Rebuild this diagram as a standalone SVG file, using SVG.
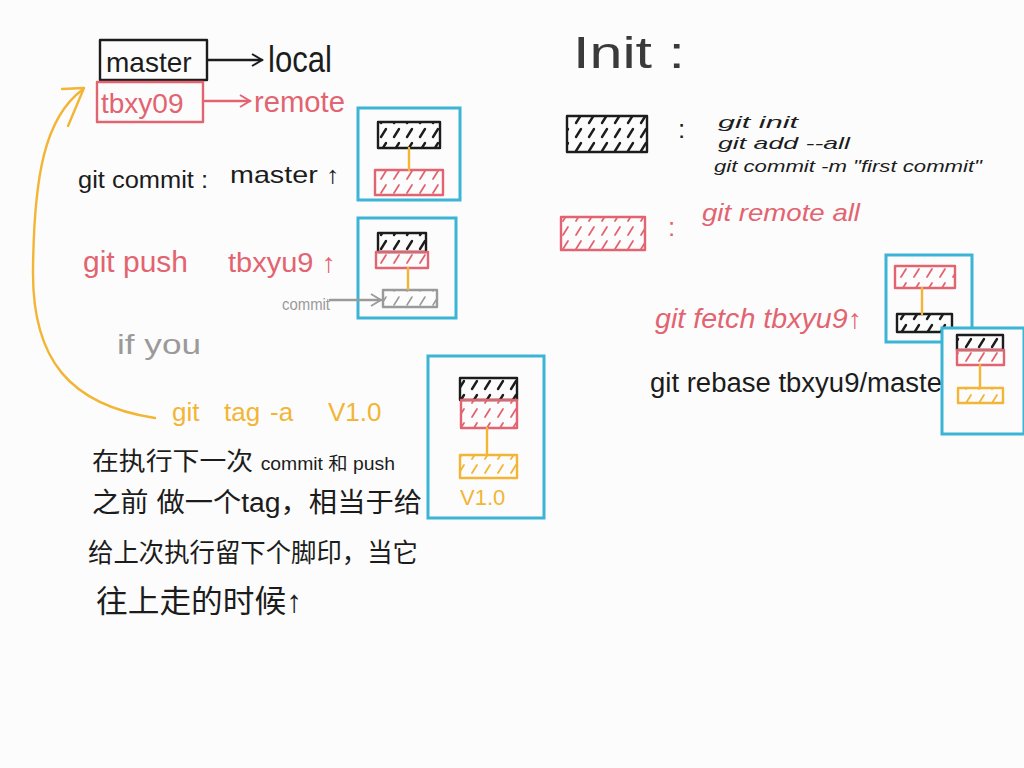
<svg xmlns="http://www.w3.org/2000/svg" width="1024" height="768" viewBox="0 0 1024 768">
<defs>
<style>
.t{font-family:"Liberation Sans","Noto Sans CJK SC",sans-serif}
.k{fill:#1c1c1c}.r{fill:#e26470}.y{fill:#f2b535}.g{fill:#9a9a9a}
.bk{stroke:#1c1c1c}.br{stroke:#e26470}.by{stroke:#f2b535}.bg{stroke:#9a9a9a}
.s{stroke-width:2.4;stroke-linecap:round;stroke-linejoin:round}
.n{fill:none}
.fk{fill:url(#hk)}.fre{fill:url(#hr)}.fy{fill:url(#hy)}.fg{fill:url(#hg)}
.fr{fill:#fdfcfc;stroke:#3bb4d6;stroke-width:3}
</style>
<pattern id="hk" width="13" height="14" patternUnits="userSpaceOnUse"><line x1="4" y1="11" x2="9" y2="3" stroke="#1c1c1c" stroke-width="2.4" stroke-linecap="round"/></pattern>
<pattern id="hr" width="13" height="14" patternUnits="userSpaceOnUse"><line x1="4" y1="11" x2="9" y2="3" stroke="#e26470" stroke-width="1.8" stroke-linecap="round"/></pattern>
<pattern id="hy" width="13" height="14" patternUnits="userSpaceOnUse"><line x1="4" y1="11" x2="9" y2="3" stroke="#f2b535" stroke-width="1.8" stroke-linecap="round"/></pattern>
<pattern id="hg" width="13" height="14" patternUnits="userSpaceOnUse"><line x1="4" y1="11" x2="9" y2="3" stroke="#9a9a9a" stroke-width="1.6" stroke-linecap="round"/></pattern>
<marker id="ak" markerWidth="14" markerHeight="14" refX="12" refY="7" orient="auto" markerUnits="userSpaceOnUse"><path d="M2 1 L12 7 L2 13" fill="none" stroke="#1c1c1c" stroke-width="2"/></marker>
<marker id="ar" markerWidth="14" markerHeight="14" refX="12" refY="7" orient="auto" markerUnits="userSpaceOnUse"><path d="M2 1 L12 7 L2 13" fill="none" stroke="#e26470" stroke-width="2"/></marker>
<marker id="ag" markerWidth="14" markerHeight="14" refX="12" refY="7" orient="auto" markerUnits="userSpaceOnUse"><path d="M2 1 L12 7 L2 13" fill="none" stroke="#9a9a9a" stroke-width="1.8"/></marker>
</defs>
<rect width="1024" height="768" fill="#fdfcfc"/>

<g id="master-label">
<rect x="100" y="40" width="107" height="40" class="s n bk"/>
<text x="106" y="72" class="t k" font-size="28">master</text>
</g>
<g id="local-label"><text x="268" y="72" class="t k" font-size="36" textLength="64" lengthAdjust="spacingAndGlyphs">local</text></g>
<g id="tbxy09-label">
<rect x="97" y="82" width="106" height="40" class="s n br"/>
<text x="101" y="113" class="t r" font-size="28">tbxy09</text>
</g>
<g id="remote-label"><text x="254" y="112" class="t r" font-size="30" textLength="91" lengthAdjust="spacingAndGlyphs">remote</text></g>

<g id="git-commit"><text x="78" y="188" class="t k" font-size="23" textLength="130" lengthAdjust="spacingAndGlyphs">git commit :</text><text x="230" y="183" class="t k" font-size="24" textLength="110" lengthAdjust="spacingAndGlyphs">master ↑</text></g>

<g id="box1">
<rect x="358" y="108" width="102" height="92" class="fr"/>
<rect x="378" y="122" width="62" height="26" class="s fk bk"/>
<rect x="375" y="170" width="68" height="25" class="s fre br"/>
</g>

<g id="git-push"><text x="83" y="272" class="t r" font-size="29" textLength="105" lengthAdjust="spacingAndGlyphs">git push</text><text x="228" y="272" class="t r" font-size="27" textLength="108" lengthAdjust="spacingAndGlyphs">tbxyu9 ↑</text></g>

<g id="box2">
<rect x="358" y="218" width="98" height="100" class="fr"/>
<rect x="378" y="233" width="48" height="19" class="s fk bk"/>
<rect x="376" y="252" width="52" height="16" class="s fre br"/>
<rect x="383" y="290" width="54" height="17" class="s fg bg"/>
</g>
<g id="commit-label"><text x="282" y="310" class="t g" font-size="16" textLength="48" lengthAdjust="spacingAndGlyphs">commit</text></g>

<g id="if-you"><text x="117" y="354" class="t g" font-size="27" textLength="84" lengthAdjust="spacingAndGlyphs">if you</text></g>

<g id="git-tag"><text y="421" class="t y" font-size="26"><tspan x="172">git</tspan><tspan x="224">tag</tspan><tspan x="270">-a</tspan><tspan x="328">V1.0</tspan></text></g>

<g id="note">
<text x="92" y="470" class="t k" font-size="25" textLength="303" lengthAdjust="spacingAndGlyphs">在执行下一次 <tspan font-size="18">commit 和 push</tspan></text>
<text x="92" y="512" class="t k" font-size="27" textLength="330" lengthAdjust="spacingAndGlyphs">之前 做一个tag，相当于给</text>
<text x="88" y="562" class="t k" font-size="26" textLength="330" lengthAdjust="spacingAndGlyphs">给上次执行留下个脚印，当它</text>
<text x="96" y="612" class="t k" font-size="31" textLength="206" lengthAdjust="spacingAndGlyphs">往上走的时候↑</text>
</g>

<g id="box3">
<rect x="428" y="356" width="116" height="162" class="fr"/>
<rect x="460" y="378" width="57" height="22" class="s fk bk"/>
<rect x="461" y="400" width="56" height="28" class="s fre br"/>
<rect x="460" y="455" width="57" height="23" class="s fy by"/>
<text x="460" y="505" class="t y" font-size="22">V1.0</text>
</g>

<g id="init-title"><text x="573" y="68" class="t" fill="#3a3a3a" font-size="44" textLength="112" lengthAdjust="spacingAndGlyphs">Init :</text></g>

<g id="init-legend">
<rect x="567" y="116" width="80" height="36" class="s fk bk"/>
<text x="678" y="138" class="t k" font-size="26">:</text>
<text x="718" y="128" class="t k" font-size="17" font-style="italic" textLength="80" lengthAdjust="spacingAndGlyphs">git init</text>
<text x="718" y="149" class="t k" font-size="17" font-style="italic" textLength="132" lengthAdjust="spacingAndGlyphs">git add --all</text>
<text x="714" y="172" class="t k" font-size="17" font-style="italic" textLength="268" lengthAdjust="spacingAndGlyphs">git commit -m "first commit"</text>
</g>

<g id="remote-legend">
<rect x="561" y="217" width="84" height="33" class="s fre br"/>
<text x="668" y="236" class="t r" font-size="26">:</text>
<text x="702" y="221" class="t r" font-size="24" font-style="italic" textLength="158" lengthAdjust="spacingAndGlyphs">git remote all</text>
</g>

<g id="git-fetch"><text x="655" y="328" class="t r" font-size="27" font-style="italic" textLength="207" lengthAdjust="spacingAndGlyphs">git fetch  tbxyu9↑</text></g>

<g id="box4">
<rect x="886" y="255" width="86" height="87" class="fr"/>
<rect x="895" y="266" width="60" height="22" class="s fre br"/>
<rect x="897" y="314" width="55" height="18" class="s fk bk"/>
</g>

<g id="git-rebase"><text x="650" y="392" class="t k" font-size="27" textLength="292" lengthAdjust="spacingAndGlyphs">git rebase tbxyu9/maste</text></g>

<g id="box5">
<rect x="942" y="328" width="82" height="106" class="fr"/>
<rect x="957" y="335" width="46" height="15" class="s fk bk"/>
<rect x="957" y="350" width="47" height="15" class="s fre br"/>
<rect x="958" y="388" width="45" height="15" class="s fy by"/>
</g>

<g id="connectors">
<line x1="208" y1="60" x2="262" y2="60" class="s n bk" marker-end="url(#ak)"/>
<line x1="205" y1="101" x2="250" y2="101" class="s n br" marker-end="url(#ar)"/>
<line x1="330" y1="300" x2="381" y2="300" class="s n bg" stroke-width="1.8" marker-end="url(#ag)"/>
<line x1="409" y1="148" x2="409" y2="170" class="s n by"/>
<line x1="408" y1="268" x2="408" y2="289" class="s n by"/>
<line x1="487" y1="428" x2="487" y2="455" class="s n by"/>
<line x1="922" y1="288" x2="922" y2="314" class="s n by"/>
<line x1="980" y1="365" x2="980" y2="388" class="s n by"/>
<path d="M155 418 C70 405 32 360 33 270 C34 175 45 118 82 90" class="s n by"/>
<path d="M62 89 L84 88 L68 126" class="s n by"/>
</g>
</svg>
